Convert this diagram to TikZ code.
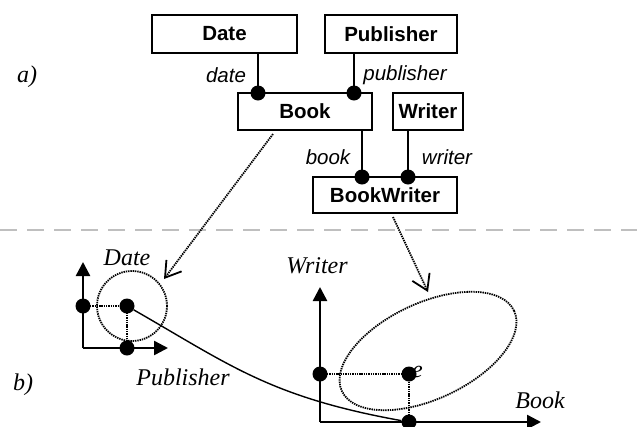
\documentclass[tikz,border=0pt]{standalone}
\usepackage{fontspec}
\setmainfont{Liberation Serif}
\setsansfont{Liberation Sans}
\usetikzlibrary{arrows.meta,calc}
\begin{document}
\begin{tikzpicture}[x=1pt,y=-1pt,
  box/.style={draw, line width=1.5pt, inner sep=0pt, font=\sffamily\bfseries\fontsize{20.5}{24}\selectfont},
  role/.style={font=\sffamily\itshape\fontsize{20.5}{24}\selectfont, inner sep=0pt},
  lbl/.style={font=\itshape\fontsize{24}{28}\selectfont, inner sep=0pt},
  dotn/.style={circle, fill, inner sep=0pt, minimum size=15pt},
  conn/.style={line width=2pt},
  axis/.style={line width=2.5pt, -{Triangle[length=14pt,width=14pt]}},
  guide/.style={line width=1.8pt, dash pattern=on 1.4pt off 0.9pt},
  maparrow/.style={line width=1.8pt, dash pattern=on 1.4pt off 0.9pt, -{Straight Barb[length=15pt,width=19pt,line width=1.8pt]}},
  sep/.style={draw=black!25, line width=2.5pt, dash pattern=on 17pt off 10pt}
]
\useasboundingbox (0,0) rectangle (637,426);
% separator
\coordinate (sl) at (0,230);
\coordinate (sr) at (637,230);
\draw[sep] (sl) -- (sr);
% part a
\node[box, minimum width=145pt, minimum height=38pt] (date) at (224.5,34) {Date};
\node[box, minimum width=132pt, minimum height=38pt] (pub) at (391,34) {Publisher};
\node[box, minimum width=134pt, minimum height=37pt] (book) at (305,111.5) {Book};
\node[box, minimum width=70pt, minimum height=37pt] (writer) at (428,111.5) {Writer};
\node[box, minimum width=144pt, minimum height=36pt] (bw) at (385,195) {BookWriter};
\node[dotn] (d1) at (258,93) {};
\node[dotn] (d2) at (354,93) {};
\node[dotn] (d3) at (362,177) {};
\node[dotn] (d4) at (408,177) {};
\draw[conn] (date.south -| d1) -- (d1.center);
\draw[conn] (pub.south -| d2) -- (d2.center);
\draw[conn] (book.south -| d3) -- (d3.center);
\draw[conn] (writer.south -| d4) -- (d4.center);
\node[role] (ldate) at (226,75) {date};
\node[role] (lpub) at (405,75) {publisher};
\node[role] (lbook) at (328,157) {book};
\node[role] (lwriter) at (447,157) {writer};
\node[lbl] (la) at (27,77) {a)};
\node[lbl] (lb) at (23,385) {b)};
% left plot
\coordinate (o1) at (83,348);
\coordinate (y1) at (83,262);
\coordinate (x1) at (168,348);
\draw[axis] (o1) -- (y1);
\draw[axis] (o1) -- (x1);
\node[dotn] (p1) at (83,306) {};
\node[dotn] (p2) at (127,306) {};
\node[dotn] (p3) at (127,348) {};
\draw[guide] (p1.center) -- (p2.center) -- (p3.center);
\coordinate (c1) at (132,306);
\draw[guide] (c1) circle[radius=35pt];
\node[lbl] (ldate2) at (127,258) {Date};
\node[lbl] (lpub2) at (183,377) {Publisher};
% right plot
\coordinate (o2) at (320,422);
\coordinate (y2) at (320,287);
\coordinate (x2) at (541,422);
\draw[axis] (o2) -- (y2);
\draw[axis] (o2) -- (x2);
\node[dotn] (q1) at (320,374) {};
\node[dotn] (q2) at (409,374) {};
\node[dotn] (q3) at (409,422) {};
\draw[guide] (q1.center) -- (q2.center) -- (q3.center);
\node[lbl, anchor=west] (le) at (412,372) {e};
\coordinate (c2) at (428,351);
\draw[guide, rotate around={25:(c2)}] (c2) ellipse[x radius=95pt, y radius=48pt];
\node[lbl] (lwriter2) at (317,266) {Writer};
\node[lbl] (lbook2) at (540,400) {Book};
% mapping arrows
\coordinate (m1s) at (273,134);
\coordinate (m1e) at (164,279);
\draw[maparrow] (m1s) -- (m1e);
\coordinate (m2s) at (393,217);
\coordinate (m2e) at (428,292);
\draw[maparrow] (m2s) -- (m2e);
% curve
\draw[line width=1.4pt] (p2) .. controls (230,365) and (270,397) .. (q3);
\end{tikzpicture}
\end{document}
